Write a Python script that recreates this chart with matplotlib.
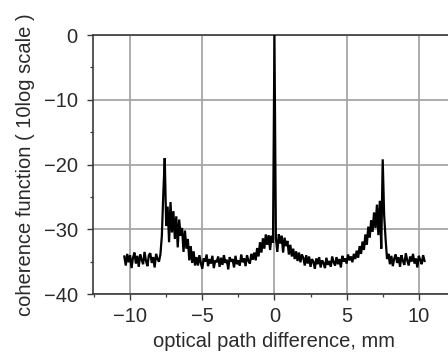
import numpy as np
import matplotlib
matplotlib.use("Agg")
import matplotlib.pyplot as plt
from matplotlib.ticker import MultipleLocator

plt.rcParams['font.family'] = ['Liberation Sans', 'DejaVu Sans']

# optical path difference sampled every 0.1 mm from -10.4 to 10.4 mm
opd_start = -10.4
opd_step = 0.1

# coherence function, dB (10 log scale)
coherence_db = [
    -34.2, -35.6, -33.8, -35.1, -34.0, -36.0, -34.4, -33.6, -35.3, -34.1,
    -35.8, -33.9, -34.7, -35.4, -33.5, -34.9, -35.7, -34.0, -33.7, -35.2,
    -34.3, -35.9, -33.8, -34.6, -35.0, -33.9, -31.0, -24.5, -19.0, -29.5,
    -26.5, -32.0, -25.8, -30.5, -27.2, -31.5, -28.0, -32.8, -28.5, -31.0,
    -29.8, -33.5, -30.2, -33.0, -31.5, -34.8, -32.6, -35.2, -33.4, -35.6,
    -34.3, -35.6, -34.0, -35.2, -36.1, -34.5, -35.0, -33.9, -35.7, -34.6,
    -35.3, -34.1, -36.0, -34.8, -35.1, -34.2, -35.8, -34.4, -35.5, -34.0,
    -35.2, -34.7, -36.2, -34.3, -35.0, -34.6, -35.9, -34.1, -35.4, -34.8,
    -35.6, -33.9, -35.1, -34.5, -35.7, -34.0, -34.9, -35.3, -33.8, -34.7,
    -33.6, -34.8, -32.9, -34.2, -32.0, -33.6, -31.4, -33.0, -30.8, -32.4,
    -30.9, -33.2, -31.0, -32.1, 0.0, -31.4, -33.5, -30.8, -32.2, -31.0,
    -33.6, -31.3, -32.6, -31.8, -33.9, -32.4, -34.2, -33.0, -34.6, -33.4,
    -34.9, -33.6, -35.1, -33.9, -34.4, -35.6, -34.0, -35.3, -34.2, -35.8,
    -34.6, -35.0, -36.1, -34.5, -35.4, -34.3, -35.9, -34.8, -35.2, -36.0,
    -34.4, -35.5, -34.9, -35.8, -34.2, -35.1, -35.6, -34.3, -35.4, -34.6,
    -35.9, -34.1, -35.0, -34.5, -35.3, -33.9, -34.8, -34.2, -35.1, -33.8,
    -34.6, -33.3, -34.4, -32.6, -33.8, -31.9, -33.2, -30.8, -32.4, -29.6,
    -31.3, -28.6, -30.4, -27.4, -29.8, -26.2, -30.9, -25.6, -33.0, -19.2,
    -27.8, -31.5, -34.6, -33.8, -35.4, -34.1, -35.7, -34.5, -33.9, -35.2,
    -34.3, -35.8, -34.0, -34.9, -35.5, -33.7, -34.8, -35.6, -34.2, -35.0,
    -33.8, -35.3, -34.5, -35.9, -34.1, -34.7, -35.4, -34.0, -34.9,
]
opd_mm = opd_start + opd_step * np.arange(len(coherence_db))

x_ticks = [-10, -5, 0, 5, 10]
y_ticks = [0, -10, -20, -30, -40]

text_color = '#2a2a2a'
fig = plt.figure(figsize=(4.48, 3.62), dpi=100)
ax = fig.add_axes([0.2076, 0.1878, 0.81, 0.7155])

ax.plot(opd_mm, coherence_db, color='black', lw=1.6, zorder=3,
        solid_joinstyle='miter')

ax.set_xlim(-12.57, 12.57)
ax.set_ylim(-40, 0)
ax.set_xticks(x_ticks)
ax.set_yticks(y_ticks)
ax.set_xticklabels([str(t).replace('-', '\u2212') for t in x_ticks])
ax.set_yticklabels([str(t).replace('-', '\u2212') for t in y_ticks])
ax.xaxis.set_minor_locator(MultipleLocator(2.5))
ax.yaxis.set_minor_locator(MultipleLocator(5))

ax.grid(True, which='major', color='#a0a0a0', lw=1.2, zorder=0)
for side in ['left', 'bottom', 'top', 'right']:
    ax.spines[side].set_color('#3a3a3a')
    ax.spines[side].set_linewidth(1.2)

ax.tick_params(which='major', direction='out', length=4, width=1.0,
               color='#3a3a3a', labelsize=14.5, labelcolor=text_color, pad=5)
ax.tick_params(which='minor', direction='out', length=2.5, width=0.9,
               color='#3a3a3a')
ax.tick_params(axis='y', pad=7)

ax.set_xlabel('optical path difference, mm', fontsize=14.5, color=text_color,
              labelpad=5)
ax.set_ylabel('coherence function ( 10log scale )', fontsize=14.5,
              color=text_color, labelpad=6)

fig.savefig('out.png', dpi=100)
